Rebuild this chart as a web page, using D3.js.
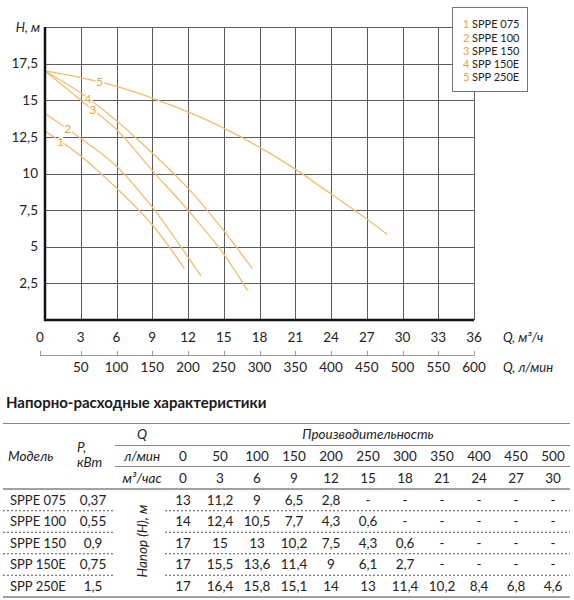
<!DOCTYPE html>
<html>
<head>
<meta charset="utf-8">
<script src="https://cdn.jsdelivr.net/npm/d3@7/dist/d3.min.js"></script>
<style>
  body { margin: 0; background: #fff; }
  svg text { font-family: Lato, "Noto Sans", sans-serif; fill: #222; }
</style>
</head>
<body>
<svg id="chart" width="574" height="600"></svg>
<script>
// axis ticks
const qM3Ticks = [0, 3, 6, 9, 12, 15, 18, 21, 24, 27, 30, 33, 36];
const qLminTicks = [0, 50, 100, 150, 200, 250, 300, 350, 400, 450, 500, 550, 600];
const hTicks = [2.5, 5, 7.5, 10, 12.5, 15, 17.5];

// curves: [Q m3/h, H m]
const curve1 = [[0, 12.9], [3, 11.2], [6, 9], [9, 6.5], [11.7, 3.5]];
const curve2 = [[0, 14.1], [3, 12.4], [6, 10.5], [9, 7.7], [12, 4.3], [13.1, 3.0]];
const curve3 = [[0, 17], [3, 15], [6, 13], [9, 10.2], [12, 7.5], [15, 4.5], [17, 2.0]];
const curve4 = [[0, 17], [3, 15.5], [6, 13.6], [9, 11.4], [12, 9], [15, 6.1], [17.4, 3.5]];
const curve5 = [[0, 17], [3, 16.55], [6, 15.95], [9, 15.15], [12, 14.2], [15, 13.1], [18, 11.8], [21, 10.3], [24, 8.6], [27, 6.9], [28.7, 5.85]];
const curves = [curve1, curve2, curve3, curve4, curve5];
const curveLabelQ = [1.3, 1.9, 4.0, 3.6, 4.6];

// table
const models = ["SPPE 075", "SPPE 100", "SPPE 150", "SPP 150E", "SPP 250E"];
const powers = ["0,37", "0,55", "0,9", "0,75", "1,5"];
const flowLmin = [0, 50, 100, 150, 200, 250, 300, 350, 400, 450, 500];
const flowM3 = [0, 3, 6, 9, 12, 15, 18, 21, 24, 27, 30];
const headSPPE075 = ["13", "11,2", "9", "6,5", "2,8", "-", "-", "-", "-", "-", "-"];
const headSPPE100 = ["14", "12,4", "10,5", "7,7", "4,3", "0,6", "-", "-", "-", "-", "-"];
const headSPPE150 = ["17", "15", "13", "10,2", "7,5", "4,3", "0,6", "-", "-", "-", "-"];
const headSPP150E = ["17", "15,5", "13,6", "11,4", "9", "6,1", "2,7", "-", "-", "-", "-"];
const headSPP250E = ["17", "16,4", "15,8", "15,1", "14", "13", "11,4", "10,2", "8,4", "6,8", "4,6"];
const headRows = [headSPPE075, headSPPE100, headSPPE150, headSPP150E, headSPP250E];

const lineColor = "#f1bd6e";
const numColor = "#e9a43f";
const comma = v => String(v).replace(".", ",");
const crisp = v => Math.round(v) + 0.5;

const svg = d3.select("#chart");
const x = d3.scaleLinear().domain([0, 36]).range([45, 474]);
const y = d3.scaleLinear().domain([0, 20]).range([320, 27]);

// grid
const grid = svg.append("g").attr("stroke", "#5c5c5c").attr("stroke-width", 1);
grid.selectAll(".v").data(qM3Ticks.slice(1)).enter().append("line")
  .attr("x1", d => crisp(x(d))).attr("x2", d => crisp(x(d))).attr("y1", y(20)).attr("y2", y(0));
grid.selectAll(".h").data(hTicks.concat([20])).enter().append("line")
  .attr("x1", x(0)).attr("x2", x(36)).attr("y1", d => crisp(y(d))).attr("y2", d => crisp(y(d)));

// curves
const line = d3.line().x(d => x(d[0])).y(d => y(d[1])).curve(d3.curveCatmullRom.alpha(0.5));
svg.append("g").selectAll("path").data(curves).enter().append("path")
  .attr("d", line).attr("fill", "none").attr("stroke", lineColor).attr("stroke-width", 1.3);

// curve labels
function hAt(c, q) {
  for (let i = 1; i < c.length; i++) {
    if (q <= c[i][0]) {
      const t = (q - c[i - 1][0]) / (c[i][0] - c[i - 1][0]);
      return c[i - 1][1] + t * (c[i][1] - c[i - 1][1]);
    }
  }
  return c[c.length - 1][1];
}
svg.append("g").selectAll("text").data(curves).enter().append("text")
  .attr("x", (d, i) => x(curveLabelQ[i])).attr("y", (d, i) => y(hAt(d, curveLabelQ[i])))
  .attr("text-anchor", "middle").attr("dy", "0.35em")
  .style("font-size", "12px").style("fill", numColor)
  .style("stroke", "#fff").style("stroke-width", 3).style("paint-order", "stroke")
  .text((d, i) => i + 1);

// axes lines
svg.append("line").attr("x1", x(0)).attr("x2", x(0)).attr("y1", y(20)).attr("y2", y(0) + 1)
  .attr("stroke", "#111").attr("stroke-width", 2.5);
svg.append("line").attr("x1", x(0) - 1).attr("x2", x(36)).attr("y1", y(0)).attr("y2", y(0))
  .attr("stroke", "#111").attr("stroke-width", 2.5);

// y tick labels
svg.append("g").selectAll("text").data(hTicks).enter().append("text")
  .attr("x", 38).attr("y", d => y(d)).attr("dy", "0.35em").attr("text-anchor", "end")
  .style("font-size", "13.5px").text(d => comma(d));
svg.append("text").attr("x", 40).attr("y", 27).attr("dy", "0.35em").attr("text-anchor", "end")
  .style("font-size", "13px").style("font-style", "italic").text("H, м");

// x tick labels (m3/h)
svg.append("g").selectAll("text").data(qM3Ticks).enter().append("text")
  .attr("x", d => x(d) - (d === 0 ? 5 : 0)).attr("y", 337).attr("dy", "0.35em").attr("text-anchor", "middle")
  .style("font-size", "13.5px").text(d => d);
svg.append("text").attr("x", 503).attr("y", 337).attr("dy", "0.35em")
  .style("font-size", "13px").style("font-style", "italic").text("Q, м³/ч");

// secondary axis (l/min)
const xl = d3.scaleLinear().domain([0, 600]).range([45, 474]);
svg.append("line").attr("x1", xl(0) - 5).attr("x2", xl(600)).attr("y1", 355.5).attr("y2", 355.5)
  .attr("stroke", "#9a9a9a").attr("stroke-width", 1);
svg.append("g").selectAll("line").data(qLminTicks).enter().append("line")
  .attr("x1", d => crisp(xl(d) - (d === 0 ? 5 : 0))).attr("x2", d => crisp(xl(d) - (d === 0 ? 5 : 0)))
  .attr("y1", 351).attr("y2", 355.5).attr("stroke", "#9a9a9a");
svg.append("g").selectAll("text").data(qLminTicks.slice(1)).enter().append("text")
  .attr("x", d => xl(d)).attr("y", 367).attr("dy", "0.35em").attr("text-anchor", "middle")
  .style("font-size", "13.5px").text(d => d);
svg.append("text").attr("x", 503).attr("y", 367).attr("dy", "0.35em")
  .style("font-size", "13px").style("font-style", "italic").text("Q, л/мин");

// legend
const lg = svg.append("g");
lg.append("rect").attr("x", 452.5).attr("y", 7.5).attr("width", 75).attr("height", 84)
  .attr("fill", "#fff").attr("stroke", "#777");
const li = lg.selectAll("g").data(models).enter().append("g")
  .attr("transform", (d, i) => `translate(463,${24.5 + i * 13.2})`);
li.append("text").attr("dy", "0.35em").style("font-size", "11px").style("fill", numColor)
  .text((d, i) => i + 1);
li.append("text").attr("x", 9).attr("dy", "0.35em").style("font-size", "11px").text(d => d);

// table
svg.append("text").attr("x", 6).attr("y", 408).style("font-size", "15px").style("font-weight", "bold")
  .style("fill", "#1a1a1a").text("Напорно-расходные характеристики");

const tRight = 570;
const colX = d3.scalePoint().domain(flowLmin).range([183, 553]);
const hl = (x1, x2, yy, col, dash) => svg.append("line").attr("x1", x1).attr("x2", x2)
  .attr("y1", yy).attr("y2", yy).attr("stroke", col).attr("stroke-width", 1)
  .attr("stroke-dasharray", dash || null);

hl(3, tRight, 423.5, "#888");
hl(115, tRight, 445.5, "#888");
hl(115, tRight, 466.5, "#888");
hl(3, tRight, 489, "#444");
hl(3, tRight, 597, "#444");

const it = (tx, ty, s, anchor) => svg.append("text").attr("x", tx).attr("y", ty)
  .attr("text-anchor", anchor || "start").style("font-size", "13.5px").style("font-style", "italic").text(s);
it(142, 439, "Q", "middle");
it(368, 439, "Производительность", "middle");
it(142, 461, "л/мин", "middle");
it(142, 483, "м³/час", "middle");
it(8, 461, "Модель");
it(77, 452, "P,");
it(77, 467, "кВт");

svg.append("g").selectAll("text").data(flowLmin).enter().append("text")
  .attr("x", d => colX(d)).attr("y", 461).attr("text-anchor", "middle").style("font-size", "13.5px").text(d => d);
svg.append("g").selectAll("text").data(flowM3).enter().append("text")
  .attr("x", (d, i) => colX(flowLmin[i])).attr("y", 483).attr("text-anchor", "middle").style("font-size", "13.5px").text(d => d);

const rowY = d3.scalePoint().domain(models).range([500, 586]);
const rows = svg.append("g").selectAll("g").data(models).enter().append("g")
  .attr("transform", d => `translate(0,${rowY(d)})`);
rows.append("text").attr("x", 10).attr("dy", "0.35em").style("font-size", "13px").text(d => d);
rows.append("text").attr("x", 93).attr("dy", "0.35em").attr("text-anchor", "middle").style("font-size", "13.5px")
  .text((d, i) => powers[i]);
rows.each(function(d, i) {
  d3.select(this).selectAll(".v").data(headRows[i]).enter().append("text")
    .attr("x", (v, j) => colX(flowLmin[j])).attr("dy", "0.35em").attr("text-anchor", "middle")
    .style("font-size", "13.5px").text(v => v);
});
models.slice(0, -1).forEach(m => {
  const yy = rowY(m) + 10.75;
  hl(3, 115, yy, "#555", "2,2");
  hl(165, tRight, yy, "#555", "2,2");
});
svg.append("text").attr("transform", "translate(142,541) rotate(-90)").attr("dy", "0.35em")
  .attr("text-anchor", "middle").style("font-size", "13.5px").style("font-style", "italic").text("Напор (Н), м");
</script>
</body>
</html>
